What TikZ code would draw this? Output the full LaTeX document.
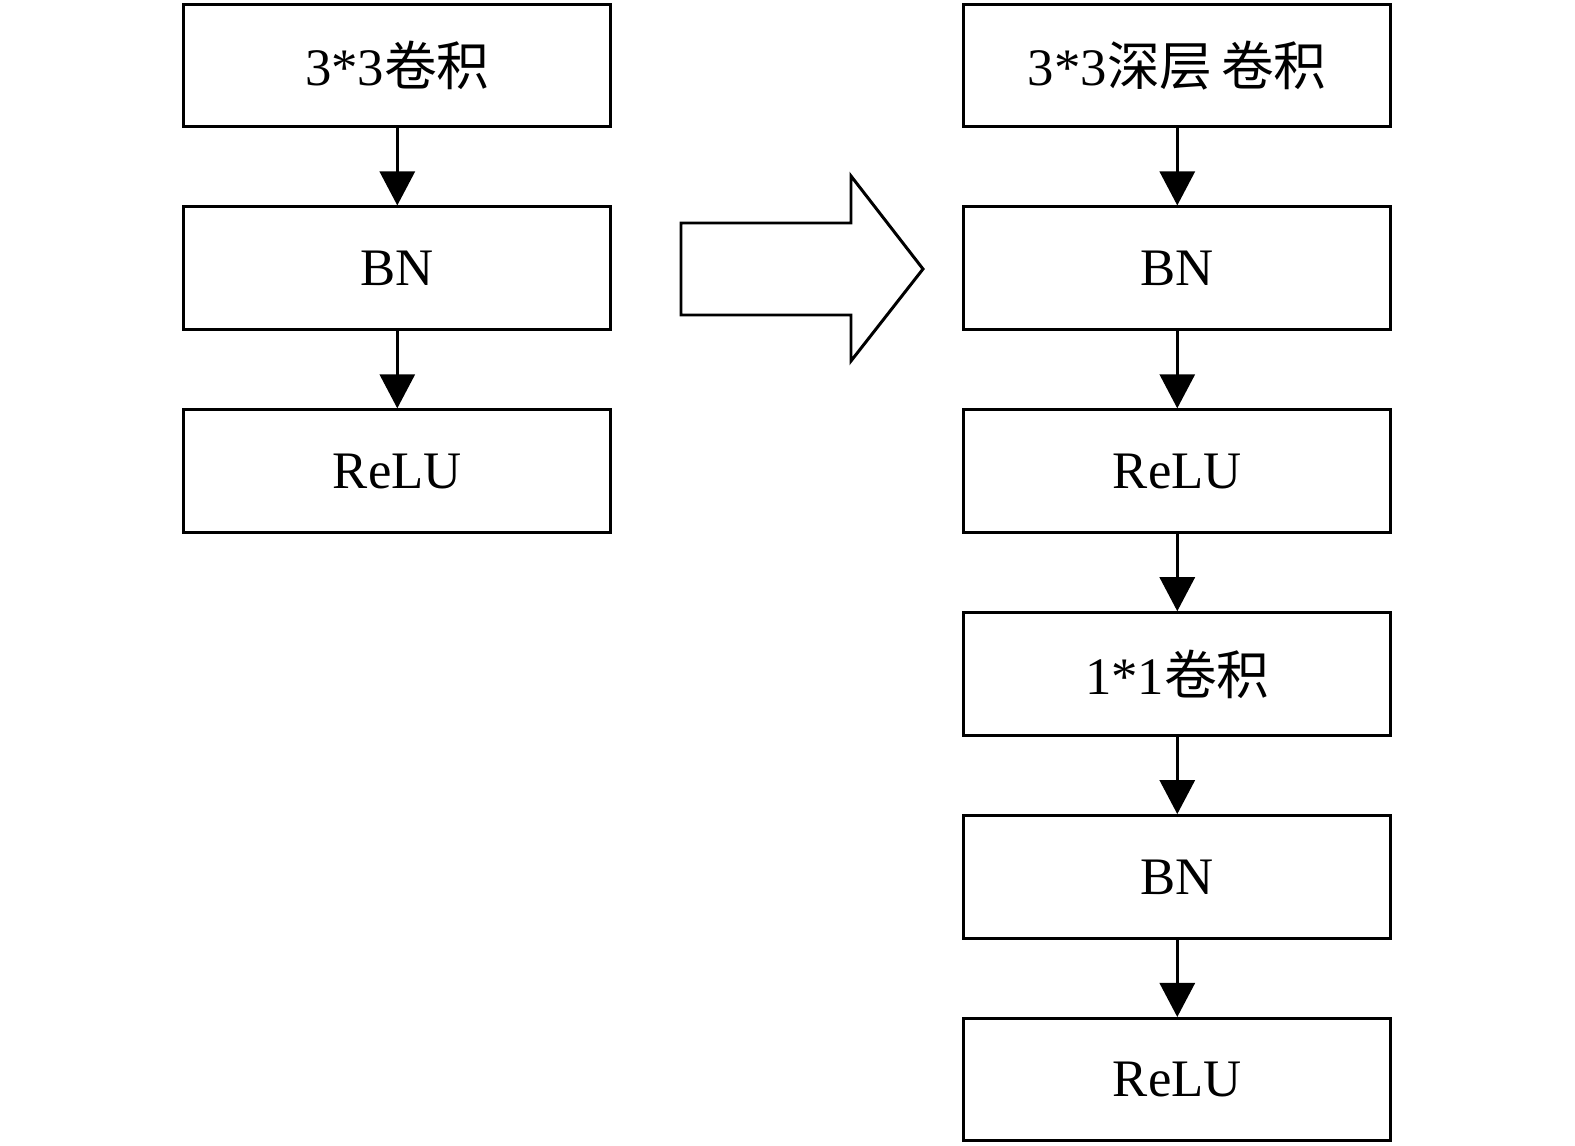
\documentclass[tikz,border=0pt]{standalone}
\usepackage{fontspec}
\setmainfont{Liberation Serif}
\newfontfamily\cjk{Noto Sans CJK SC}
\usetikzlibrary{arrows.meta, positioning, calc}

\begin{document}
\begin{tikzpicture}[node distance=7.74mm and 35mm, box/.style={draw, line width=0.85pt, minimum height=12.25mm, minimum width=42.7mm, inner sep=0pt, align=center, font=\fontsize{15}{17}\selectfont}, >={Triangle[width=3.5mm, length=3.4mm]}, line width=0.85pt]
\useasboundingbox (0,0) rectangle (15.75,-11.46);
% original block
\node[box] at (3.973,-0.653) (conv) {3*3{\cjk 卷积}};
\node[box, below=of conv] (bn) {BN};
\node[box, below=of bn] (relu) {ReLU};
% depthwise separable block
\node[box, right=of conv] (dconv) {3*3{\cjk 深层\,卷积}};
\node[box, below=of dconv] (dbn) {BN};
\node[box, below=of dbn] (drelu) {ReLU};
\node[box, below=of drelu] (pconv) {1*1{\cjk 卷积}};
\node[box, below=of pconv] (pbn) {BN};
\node[box, below=of pbn] (prelu) {ReLU};
\draw[->] (conv) -- (bn);
\draw[->] (bn) -- (relu);
\draw[->] (dconv) -- (dbn);
\draw[->] (dbn) -- (drelu);
\draw[->] (drelu) -- (pconv);
\draw[->] (pconv) -- (pbn);
\draw[->] (pbn) -- (prelu);
% big arrow
\draw[line join=miter] (6.81,-2.23) -- (8.51,-2.23) -- (8.51,-1.76) -- (9.23,-2.69) -- (8.51,-3.61) -- (8.51,-3.15) -- (6.81,-3.15) -- cycle;
\end{tikzpicture}
\end{document}
